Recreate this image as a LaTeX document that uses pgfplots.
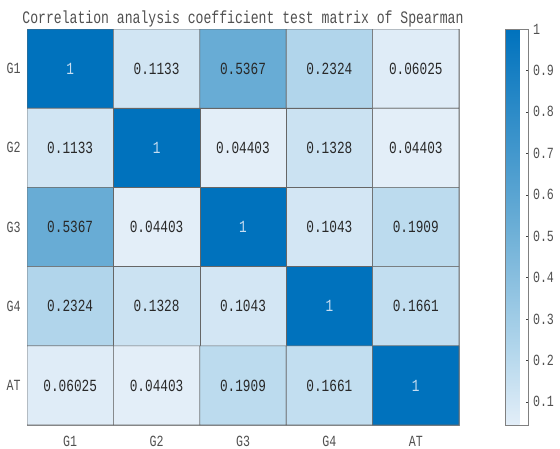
\documentclass[border=0pt]{standalone}
\usepackage{fontspec}
\setmainfont{Liberation Mono}[FakeStretch=0.75]
\usepackage{pgfplots}
\usepackage{pgfplotstable}
\pgfplotsset{compat=1.18}
\usetikzlibrary{calc}
\definecolor{dk}{RGB}{40,40,40}
\definecolor{lbl}{RGB}{80,80,80}
\definecolor{diagtxt}{RGB}{200,222,242}
\pgfplotstableread{
x y c
0 0 1
1 0 0.1133
2 0 0.5367
3 0 0.2324
4 0 0.06025
0 1 0.1133
1 1 1
2 1 0.04403
3 1 0.1328
4 1 0.04403
0 2 0.5367
1 2 0.04403
2 2 1
3 2 0.1043
4 2 0.1909
0 3 0.2324
1 3 0.1328
2 3 0.1043
3 3 1
4 3 0.1661
0 4 0.06025
1 4 0.04403
2 4 0.1909
3 4 0.1661
4 4 1
}\datatable
\begin{document}
\begin{tikzpicture}
\begin{axis}[
  name=ax,
  width=432bp, height=396bp, scale only axis,
  xmin=-0.5, xmax=4.5, ymin=-0.5, ymax=4.5,
  y dir=reverse,
  enlargelimits=false,
  xtick={0,1,2,3,4}, xticklabels={G1,G2,G3,G4,AT},
  ytick={0,1,2,3,4}, yticklabels={G1,G2,G3,G4,AT},
  major tick length=0pt,
  axis line style={black!45},
  tick label style={font=\fontsize{15.5bp}{17bp}\selectfont, text=lbl},
  xticklabel style={yshift=-8bp},
  yticklabel style={xshift=-3bp},
  title={Correlation analysis coefficient test matrix of Spearman},
  title style={font=\fontsize{17.5bp}{19bp}\selectfont, text=lbl, at={(0.5,1)}, anchor=base, yshift=0bp},
  colormap={bl}{rgb255(0cm)=(227,238,248); rgb255(2cm)=(176,213,235); rgb255(5cm)=(107,174,214); rgb255(10cm)=(0,114,189)},
  point meta min=0.04403, point meta max=1,
  colorbar,
  colorbar style={
    at={(parent axis.north east)}, anchor=north west, xshift=38bp,
    width=23bp,
    ytick={0.1,0.2,0.3,0.4,0.5,0.6,0.7,0.8,0.9,1},
    yticklabels={0.1,0.2,0.3,0.4,0.5,0.6,0.7,0.8,0.9,1},
    ytick pos=right, yticklabel pos=right,
    tick align=inside, major tick length=3bp,
    tick style={black!75},
    axis line style={black!50},
    yticklabel style={font=\fontsize{15.5bp}{17bp}\selectfont, text=lbl, xshift=1bp},
  },
]
\addplot[matrix plot*, mesh/cols=5, point meta=explicit, draw=black!60, line width=0.6pt]
  table[x=x, y=y, meta=c] {\datatable};
\addplot[draw=none, mark=none, point meta=explicit symbolic, nodes near coords,
  nodes near coords style={anchor=center, text=dk, font=\fontsize{17bp}{19bp}\selectfont}]
  coordinates {
  (1,0) [0.1133] (2,0) [0.5367] (3,0) [0.2324] (4,0) [0.06025]
  (0,1) [0.1133] (2,1) [0.04403] (3,1) [0.1328] (4,1) [0.04403]
  (0,2) [0.5367] (1,2) [0.04403] (3,2) [0.1043] (4,2) [0.1909]
  (0,3) [0.2324] (1,3) [0.1328] (2,3) [0.1043] (4,3) [0.1661]
  (0,4) [0.06025] (1,4) [0.04403] (2,4) [0.1909] (3,4) [0.1661]
  };
\addplot[draw=none, mark=none, point meta=explicit symbolic, nodes near coords,
  nodes near coords style={anchor=center, text=diagtxt, font=\fontsize{17bp}{19bp}\selectfont}]
  coordinates {(0,0) [1] (1,1) [1] (2,2) [1] (3,3) [1] (4,4) [1]};
\end{axis}
\pgfresetboundingbox
\path ($(ax.south west)+(-27bp,-24bp)$) rectangle ($(ax.north east)+(101bp,29bp)$);
\end{tikzpicture}
\end{document}
